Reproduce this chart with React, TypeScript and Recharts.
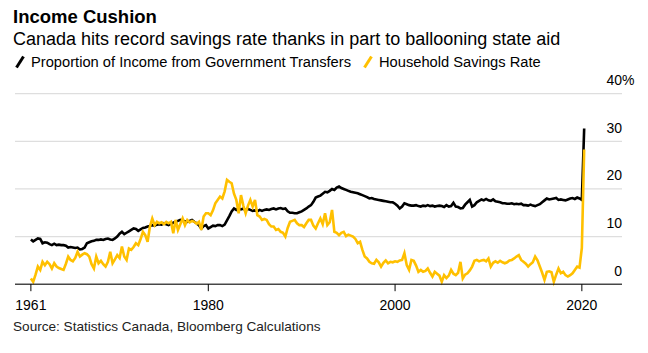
import React from 'react'
import { LineChart, Line, XAxis, YAxis, CartesianGrid } from 'recharts'

// quarterly, starting 1961 Q1
const START_YEAR = 1961

const transfers1960s = [
  9.4, 9.0, 9.3, 9.6, 9.5, 8.6, 8.8, 8.7, 8.4, 8.2, 8.5, 8.2, 8.3, 8.2, 8.2, 8.1,
  7.7, 7.8, 7.7, 7.6, 7.7, 7.3, 7.4, 7.7, 8.6, 8.8, 9.0, 9.1, 9.3, 9.3, 9.4, 9.3,
  9.5, 9.6, 9.4, 9.3, 9.6, 10.0, 10.6, 11.0,
]
const transfers1970s = [
  10.5, 10.8, 11.1, 11.4, 11.7, 11.6, 11.2, 11.5, 11.8, 11.9, 12.1, 12.2, 12.4, 12.3, 12.5, 12.6,
  12.5, 12.8, 12.6, 12.4, 12.7, 12.9, 13.1, 13.3, 13.5, 13.4, 13.2, 13.1, 13.3, 13.5, 13.1, 12.8,
  12.4, 11.7, 12.2, 12.4, 11.7, 12.0, 12.3, 12.2,
]
const transfers1980s = [
  12.4, 12.4, 12.2, 12.5, 13.4, 14.3, 15.3, 15.9, 15.6, 15.9, 15.7, 15.9, 15.5, 15.8, 15.6, 15.4,
  15.5, 15.3, 15.6, 15.4, 15.6, 15.7, 15.6, 15.8, 15.9, 15.7, 15.9, 16.0, 15.8, 15.9, 15.3, 15.0,
  15.0, 14.9, 14.9, 15.1, 15.3, 15.6, 15.9, 16.3,
]
const transfers1990s = [
  16.6, 17.3, 18.2, 18.4, 18.6, 19.0, 19.4, 19.3, 19.6, 20.0, 19.8, 20.3, 20.5, 20.2, 20.0, 19.8,
  19.6, 19.4, 19.3, 19.2, 19.1, 18.9, 18.7, 18.5, 18.3, 18.0, 18.1, 17.9, 17.8, 17.7, 17.6, 17.5,
  17.4, 17.3, 17.2, 17.2, 16.9, 16.5, 15.9, 16.3,
]
const transfers2000s = [
  17.0, 16.8, 16.6, 16.5, 16.5, 16.6, 16.4, 16.3, 16.5, 16.4, 16.6, 16.4, 16.5, 16.3, 16.4, 16.5,
  16.4, 16.2, 16.6, 16.3, 16.4, 17.1, 16.3, 16.2, 15.9, 16.0, 16.7, 17.2, 17.7, 16.3, 16.6, 17.2,
  17.5, 17.8, 17.6, 17.9, 17.6, 17.5, 17.8, 17.4,
]
const transfers2010s = [
  17.3, 17.2, 17.0, 17.0, 16.9, 16.9, 17.0, 16.8, 16.9, 16.8, 16.9, 16.6, 16.6, 16.5, 16.7, 16.5,
  16.4, 16.6, 16.8, 17.2, 17.6, 18.0, 17.8, 17.9, 18.0, 18.1, 17.7, 17.8, 17.7, 17.6, 17.8, 18.0,
  18.1, 17.9, 18.2, 18.0, 17.7, 32.7,
]

const savings1960s = [
  1.2, 0.5, 2.0, 3.7, 3.0, 4.7, 4.0, 4.7, 4.2, 3.3, 4.4, 3.7, 3.4, 3.2, 3.0, 4.3,
  5.8, 5.1, 4.8, 5.5, 6.8, 5.8, 6.2, 6.5, 6.3, 5.8, 4.2, 3.3, 5.8, 4.4, 4.9, 4.2,
  3.7, 4.7, 6.8, 4.4, 5.2, 6.1, 5.5, 7.9,
]
const savings1970s = [
  5.8, 5.1, 7.5, 7.2, 7.8, 8.6, 8.2, 9.5, 11.0, 10.3, 8.9, 12.1, 13.8, 12.4, 13.1, 12.8,
  13.0, 12.6, 13.1, 12.8, 13.1, 10.7, 13.5, 11.4, 12.6, 13.8, 12.4, 13.5, 13.0, 13.3, 13.1, 12.7,
  13.1, 11.4, 14.2, 14.9, 14.9, 14.5, 15.5, 17.0,
]
const savings1980s = [
  17.7, 18.4, 18.0, 19.5, 21.9, 21.5, 21.2, 19.0, 17.7, 14.9, 18.7, 16.5, 14.9, 16.5, 17.7, 16.3,
  17.7, 14.5, 14.2, 13.5, 13.7, 13.5, 12.6, 12.1, 12.1, 11.4, 11.6, 11.0, 10.8, 10.0, 11.8, 13.1,
  13.3, 13.5, 12.8, 12.4, 12.4, 12.0, 12.8, 13.5,
]
const savings1990s = [
  13.5, 12.3, 11.7, 12.8, 13.8, 12.6, 14.9, 12.4, 13.0, 15.6, 11.0, 10.8, 10.3, 10.8, 11.0, 10.1,
  10.4, 10.2, 10.0, 9.5, 8.6, 8.9, 7.2, 5.8, 5.4, 4.7, 4.4, 4.3, 5.1, 4.6, 3.7, 4.5,
  5.0, 4.4, 4.7, 4.6, 4.8, 4.7, 5.0, 5.1,
]
const savings2000s = [
  6.5, 4.0, 3.0, 5.1, 4.9, 3.9, 2.6, 3.0, 2.6, 2.8, 3.3, 2.4, 1.6, 2.6, 2.2, 1.8,
  0.5, 1.9, 1.3, 1.8, 3.0, 2.2, 1.9, 2.4, 4.7, 1.2, 2.0, 2.3, 2.9, 3.7, 4.9, 5.1,
  4.8, 5.0, 5.1, 4.8, 5.4, 3.7, 4.5, 4.8,
]
const savings2010s = [
  4.5, 4.9, 4.6, 4.4, 4.6, 5.0, 5.1, 5.4, 5.8, 6.1, 5.1, 4.7, 4.3, 3.7, 4.2, 4.6,
  5.8, 5.0, 3.7, 2.4, 0.9, 2.6, 2.7, 2.5, 0.5, 2.0, 3.3, 2.3, 2.6, 1.9, 1.6, 1.9,
  2.3, 3.0, 3.7, 3.5, 7.6, 28.3,
]

const yearTicks = [1961, 1980, 2000, 2020]
const valueTicks = [0, 10, 20, 30, 40]

const transfers = [
  ...transfers1960s, ...transfers1970s, ...transfers1980s,
  ...transfers1990s, ...transfers2000s, ...transfers2010s,
]
const savings = [
  ...savings1960s, ...savings1970s, ...savings1980s,
  ...savings1990s, ...savings2000s, ...savings2010s,
]

const data = transfers.map((v, i) => ({
  t: START_YEAR + i / 4,
  transfers: v,
  savings: savings[i],
}))

const FONT = '"Liberation Sans", Arial, sans-serif'
const YELLOW = '#ffc000'

// labels sit just above their gridline, right-aligned to the plot edge
function RightTick(props: any) {
  const { y, payload, plotRight } = props
  const v = payload.value
  return (
    <g>
      <text x={plotRight} y={y - 8.5} textAnchor="end" fontSize={14} fill="#000" fontFamily={FONT}>
        {v}
      </text>
      {v === 40 && (
        <text x={plotRight} y={y - 8.5} textAnchor="start" fontSize={14} fill="#000" fontFamily={FONT}>
          %
        </text>
      )}
    </g>
  )
}

function Swatch({ color }: { color: string }) {
  return (
    <svg width={10} height={14} style={{ verticalAlign: 'middle', marginRight: 6, marginTop: -3 }}>
      <line x1={1.5} y1={12.5} x2={8.5} y2={1.5} stroke={color} strokeWidth={3} />
    </svg>
  )
}

export default function App() {
  return (
    <div
      style={{
        position: 'fixed', left: 0, top: 0, width: 648, height: 353,
        background: '#fff', overflow: 'hidden', fontFamily: FONT, color: '#000',
      }}
    >
      <div style={{ position: 'absolute', left: 13, top: 6, fontSize: 18.5, fontWeight: 700, lineHeight: '22px' }}>
        Income Cushion
      </div>
      <div style={{ position: 'absolute', left: 13, top: 28, fontSize: 18, lineHeight: '22px' }}>
        Canada hits record savings rate thanks in part to ballooning state aid
      </div>
      <div style={{ position: 'absolute', left: 15, top: 53, fontSize: 14.7, lineHeight: '18px', whiteSpace: 'nowrap' }}>
        <Swatch color="#000" />
        <span>Proportion of Income from Government Transfers</span>
        <span style={{ display: 'inline-block', width: 12 }} />
        <Swatch color={YELLOW} />
        <span>Household Savings Rate</span>
      </div>

      <LineChart
        width={648}
        height={353}
        data={data}
        margin={{ top: 93.7, right: 0, left: 15, bottom: 38.8 }}
        style={{ position: 'absolute', left: 0, top: 0 }}
      >
        <CartesianGrid vertical={false} stroke="#dedede" strokeWidth={1.2} />
        <XAxis
          dataKey="t"
          type="number"
          domain={[1959.3, 2024.3]}
          ticks={yearTicks}
          allowDataOverflow
          stroke="#000"
          tickSize={7}
          tickMargin={9}
          tick={{ fontSize: 14, fill: '#000', fontFamily: FONT }}
          height={30}
        />
        <YAxis
          orientation="right"
          domain={[0, 40]}
          ticks={valueTicks}
          width={26}
          axisLine={false}
          tickLine={false}
          tickSize={0}
          tickMargin={0}
          tick={<RightTick plotRight={622} />}
        />
        <Line
          dataKey="transfers"
          stroke="#000"
          strokeWidth={2.6}
          dot={false}
          type="linear"
          isAnimationActive={false}
        />
        <Line
          dataKey="savings"
          stroke={YELLOW}
          strokeWidth={2.6}
          dot={false}
          type="linear"
          isAnimationActive={false}
        />
      </LineChart>

      <div style={{ position: 'absolute', left: 13, top: 319, fontSize: 13.6, lineHeight: '16px', color: '#222' }}>
        Source: Statistics Canada, Bloomberg Calculations
      </div>
    </div>
  )
}
